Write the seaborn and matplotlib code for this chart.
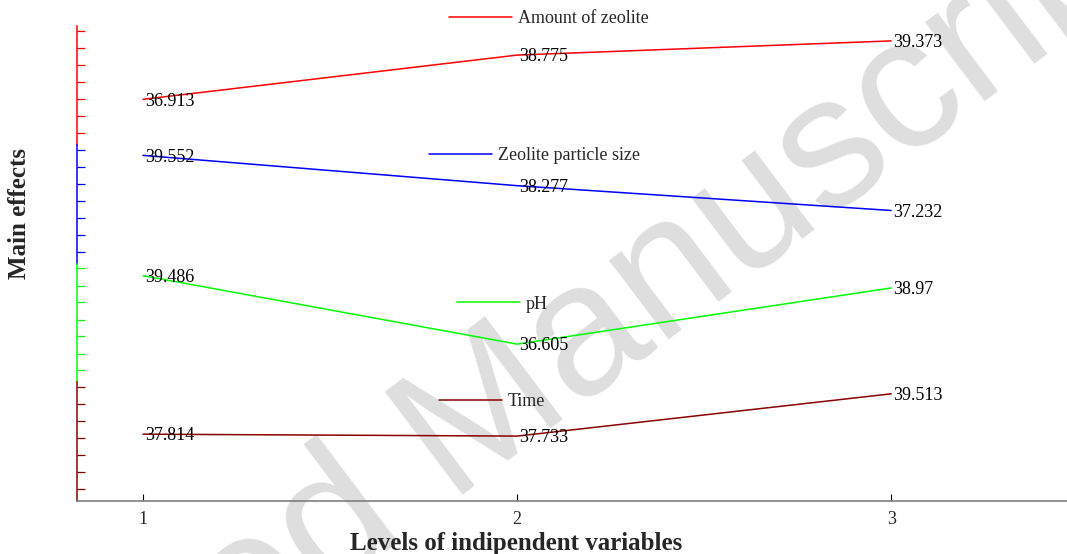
import matplotlib
matplotlib.use("Agg")
import matplotlib.pyplot as plt
import seaborn as sns

# Main effects of each factor at its three levels
levels = [1, 2, 3]
factors = ["Amount of zeolite", "Zeolite particle size", "pH", "Time"]
zeolite_amount = [36.913, 38.775, 39.373]
particle_size = [39.552, 38.277, 37.232]
ph_values = [39.486, 36.605, 38.97]
contact_time = [37.814, 37.733, 39.513]
series = [zeolite_amount, particle_size, ph_values, contact_time]
colors = ["#FF0000", "#0000FF", "#00FF00", "#8B0000"]
y_ticks = [35.5, 36.21, 36.93, 37.64, 38.36, 39.07, 39.79]
x_ticks = [1, 2, 3]

sns.set_theme(style="white")
plt.rcParams["font.family"] = ["Liberation Serif", "DejaVu Serif"]

W, H = 1067, 554
fig = plt.figure(figsize=(W / 100, H / 100), dpi=100)

# background watermark
fig.text(455 / W, 1 - 440 / H, "Accepted Manuscript", fontsize=135, color="#DEDEDE",
         family=["Liberation Sans", "DejaVu Sans"], rotation=37,
         ha="center", va="center", rotation_mode="anchor", zorder=-5)

left = 77 / W
width = 1 - left
panel_h = 118.75 / H
bottom0 = 1 - 501 / H

# legend anchors (axes fraction) for each panel
legend_pos = [(0.3758, 1.059), (0.3556, 0.907), (0.3838, 0.658), (0.3657, 0.839)]

axes = []
for i, (name, vals, col) in enumerate(zip(factors, series, colors)):
    b = bottom0 + (3 - i) * panel_h
    ax = fig.add_axes([left, b, width, panel_h])
    ax.patch.set_alpha(0)
    sns.lineplot(x=levels, y=vals, ax=ax, color=col, linewidth=1.1, label=name)
    ax.set_xlim(0.8235, 3.47)
    ax.set_ylim(35, 40)
    ax.set_yticks(y_ticks)
    ax.set_yticklabels([])
    ax.tick_params(axis="y", direction="in", length=6, width=0.9, color=col, left=True)
    for s in ["top", "right"]:
        ax.spines[s].set_visible(False)
    ax.spines["left"].set_color(col)
    ax.spines["left"].set_linewidth(1.1)
    for v, x in zip(vals, levels):
        ax.annotate(f"{v:g}", (x, v), xytext=(1.5, -4.5), textcoords="offset points",
                    ha="left", va="baseline", fontsize=13, color="black")
    ax.legend(loc="center left", bbox_to_anchor=legend_pos[i], frameon=False,
              fontsize=13, handlelength=3.5, handletextpad=0.3, borderpad=0,
              borderaxespad=0)
    if i < 3:
        ax.spines["bottom"].set_visible(False)
        ax.set_xticks([])
    else:
        ax.spines["bottom"].set_color("#7F7F7F")
        ax.spines["bottom"].set_linewidth(1.2)
        ax.set_xticks(x_ticks)
        ax.set_xticklabels([str(t) for t in x_ticks])
        ax.tick_params(axis="x", direction="in", length=5, width=0.8, color="black",
                       bottom=True, labelsize=13, pad=7)
        ax.set_xlabel("Levels of indipendent variables", fontsize=18,
                      fontweight="bold", labelpad=2)
        ax.xaxis.set_label_coords((516 - 77) / 990, -0.265)
    ax.set_ylabel("")
    axes.append(ax)

fig.text(20 / W, 1 - 214 / H, "Main effects", rotation=90, fontsize=18,
         fontweight="bold", ha="center", va="center")

fig.savefig("out.png", dpi=100)
